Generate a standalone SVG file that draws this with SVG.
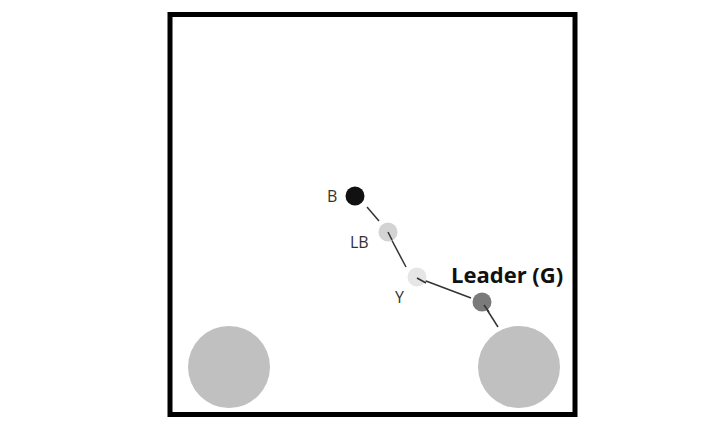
<svg xmlns="http://www.w3.org/2000/svg" width="720" height="435" viewBox="0 0 720 435">
<style>
.lbl{font-family:"Open Sans","Liberation Sans",sans-serif;font-size:16px;fill:#333}
.lead{font-family:"Open Sans","Liberation Sans",sans-serif;font-size:22px;font-weight:bold;fill:#111}
.link{stroke:#333;stroke-width:1.5;fill:none}
.pillar{fill:#c0c0c0}
</style>
<rect width="720" height="435" fill="#fff"/>
<g id="frame"><rect x="170" y="14.5" width="405" height="400" fill="none" stroke="#000" stroke-width="5"/></g>
<g id="connectors">
<line class="link" x1="367" y1="207" x2="379" y2="221"/>
<line class="link" x1="388" y1="233" x2="406" y2="267"/>
<line class="link" x1="418" y1="278" x2="471" y2="298"/>
<line class="link" x1="484" y1="305" x2="498" y2="327"/>
</g>
<g id="pillar-left"><circle class="pillar" cx="229" cy="367" r="41"/></g>
<g id="pillar-right"><circle class="pillar" cx="519" cy="367" r="41"/></g>
<g id="node-B"><circle cx="355" cy="196" r="9.5" fill="#111"/><text class="lbl" x="327" y="202">B</text></g>
<g id="node-LB"><circle cx="388" cy="232" r="9.5" fill="#d3d3d3"/><line class="link" x1="388" y1="232" x2="392" y2="240"/><text class="lbl" x="350" y="248">LB</text></g>
<g id="node-Y"><circle cx="417" cy="277" r="9.5" fill="#e6e6e6"/><line class="link" x1="417" y1="278" x2="426" y2="283"/><text class="lbl" x="395" y="303">Y</text></g>
<g id="node-G"><circle cx="482" cy="302" r="9.5" fill="#7a7a7a"/><line class="link" x1="484" y1="305" x2="489" y2="312"/><text class="lead" x="451" y="283">Leader (G)</text></g>
</svg>
